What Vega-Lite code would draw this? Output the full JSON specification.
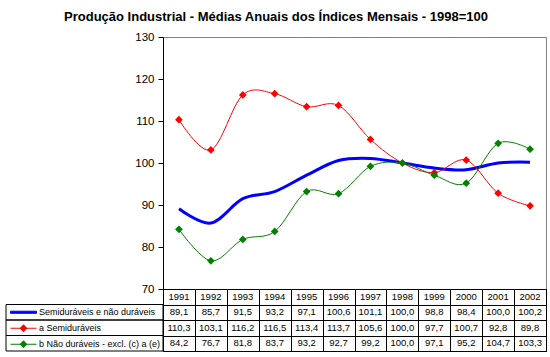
{
  "$schema": "https://vega.github.io/schema/vega-lite/v6.json",
  "padding": {"left": 5, "right": 5, "top": 10, "bottom": 5},
  "background": "white",
  "title": {"text": "Produção Industrial - Médias Anuais dos Índices Mensais - 1998=100", "anchor": "middle", "fontSize": 13, "font": "Liberation Sans", "fontWeight": "bold", "color": "black", "offset": 7},
  "config": {
    "font": "Liberation Sans",
    "view": {"stroke": null},
    "locale": {"number": {"decimal": ",", "thousands": ".", "grouping": [3], "currency": ["", " €"]}}
  },
  "datasets": {
    "d": [
      {"ano": "1991", "serie": "Semiduráveis e não duráveis", "valor": 89.1},
      {"ano": "1992", "serie": "Semiduráveis e não duráveis", "valor": 85.7},
      {"ano": "1993", "serie": "Semiduráveis e não duráveis", "valor": 91.5},
      {"ano": "1994", "serie": "Semiduráveis e não duráveis", "valor": 93.2},
      {"ano": "1995", "serie": "Semiduráveis e não duráveis", "valor": 97.1},
      {"ano": "1996", "serie": "Semiduráveis e não duráveis", "valor": 100.6},
      {"ano": "1997", "serie": "Semiduráveis e não duráveis", "valor": 101.1},
      {"ano": "1998", "serie": "Semiduráveis e não duráveis", "valor": 100.0},
      {"ano": "1999", "serie": "Semiduráveis e não duráveis", "valor": 98.8},
      {"ano": "2000", "serie": "Semiduráveis e não duráveis", "valor": 98.4},
      {"ano": "2001", "serie": "Semiduráveis e não duráveis", "valor": 100.0},
      {"ano": "2002", "serie": "Semiduráveis e não duráveis", "valor": 100.2},
      {"ano": "1991", "serie": "a Semiduráveis", "valor": 110.3},
      {"ano": "1992", "serie": "a Semiduráveis", "valor": 103.1},
      {"ano": "1993", "serie": "a Semiduráveis", "valor": 116.2},
      {"ano": "1994", "serie": "a Semiduráveis", "valor": 116.5},
      {"ano": "1995", "serie": "a Semiduráveis", "valor": 113.4},
      {"ano": "1996", "serie": "a Semiduráveis", "valor": 113.7},
      {"ano": "1997", "serie": "a Semiduráveis", "valor": 105.6},
      {"ano": "1998", "serie": "a Semiduráveis", "valor": 100.0},
      {"ano": "1999", "serie": "a Semiduráveis", "valor": 97.7},
      {"ano": "2000", "serie": "a Semiduráveis", "valor": 100.7},
      {"ano": "2001", "serie": "a Semiduráveis", "valor": 92.8},
      {"ano": "2002", "serie": "a Semiduráveis", "valor": 89.8},
      {"ano": "1991", "serie": "b Não duráveis - excl. (c) a (e)", "valor": 84.2},
      {"ano": "1992", "serie": "b Não duráveis - excl. (c) a (e)", "valor": 76.7},
      {"ano": "1993", "serie": "b Não duráveis - excl. (c) a (e)", "valor": 81.8},
      {"ano": "1994", "serie": "b Não duráveis - excl. (c) a (e)", "valor": 83.7},
      {"ano": "1995", "serie": "b Não duráveis - excl. (c) a (e)", "valor": 93.2},
      {"ano": "1996", "serie": "b Não duráveis - excl. (c) a (e)", "valor": 92.7},
      {"ano": "1997", "serie": "b Não duráveis - excl. (c) a (e)", "valor": 99.2},
      {"ano": "1998", "serie": "b Não duráveis - excl. (c) a (e)", "valor": 100.0},
      {"ano": "1999", "serie": "b Não duráveis - excl. (c) a (e)", "valor": 97.1},
      {"ano": "2000", "serie": "b Não duráveis - excl. (c) a (e)", "valor": 95.2},
      {"ano": "2001", "serie": "b Não duráveis - excl. (c) a (e)", "valor": 104.7},
      {"ano": "2002", "serie": "b Não duráveis - excl. (c) a (e)", "valor": 103.3}
    ]
  },
  "columns": 2,
  "spacing": 0,
  "bounds": "flush",
  "resolve": {"scale": {"x": "independent", "y": "independent"}},
  "concat": [
    {
      "width": 157, "height": 252,
      "data": {"values": [{}]},
      "mark": {"type": "text"},
      "encoding": {"text": {"value": ""}}
    },
    {
      "width": 383, "height": 252,
      "data": {"name": "d"},
      "view": {"stroke": "#808080"},
      "encoding": {
        "x": {"field": "ano", "type": "ordinal", "scale": {"type": "point", "padding": 0.5}, "axis": null},
        "y": {"field": "valor", "type": "quantitative", "scale": {"domain": [70, 130], "nice": false, "zero": false},
              "axis": {"values": [70, 80, 90, 100, 110, 120, 130], "grid": false, "domainColor": "black", "tickColor": "black", "tickSize": 5, "labelFontSize": 11.5, "labelColor": "black", "labelPadding": 4, "title": null}},
        "color": {"field": "serie", "type": "nominal",
                  "scale": {"domain": ["Semiduráveis e não duráveis", "a Semiduráveis", "b Não duráveis - excl. (c) a (e)"], "range": ["#0000ff", "#ff0000", "#008000"]},
                  "legend": {
                    "orient": "none", "legendX": 4, "legendY": 267.5,
                    "title": null, "padding": 0, "labelFontSize": 9, "labelColor": "black", "labelFont": "Liberation Sans",
                    "symbolSize": 676, "rowPadding": 0, "labelOffset": 2, "clipHeight": 15.5,
                    "encode": {"symbols": {"update": {
                      "shape": {"signal": "datum.index === 0 ? 'M-1,-0.08L1,-0.08L1,0.08L-1,0.08Z' : 'M-1,0L1,0M-0.25,0L0,-0.27L0.25,0L0,0.27Z'"},
                      "size": {"value": 676},
                      "fill": {"signal": "scale('color', datum.value)"},
                      "stroke": {"signal": "scale('color', datum.value)"},
                      "strokeWidth": {"value": 1},
                      "opacity": {"value": 1}
                    }}}
                  }}
      },
      "layer": [
        {"mark": {"type": "line", "interpolate": "cardinal"},
         "encoding": {"strokeWidth": {"condition": {"test": "datum.serie === 'Semiduráveis e não duráveis'", "value": 3}, "value": 1}}},
        {"transform": [{"filter": "datum.serie !== 'Semiduráveis e não duráveis'"}],
         "mark": {"type": "point", "shape": "diamond", "filled": true, "size": 60, "opacity": 1}}
      ]
    },
    {
      "width": 157, "height": 62,
      "data": {"name": "d"},
      "transform": [{"filter": "datum.ano === '1991'"}],
      "mark": {"type": "rect", "fill": "transparent", "stroke": "black", "strokeWidth": 1},
      "encoding": {
        "y": {"field": "serie", "type": "nominal", "scale": {"domain": ["ano", "Semiduráveis e não duráveis", "a Semiduráveis", "b Não duráveis - excl. (c) a (e)"], "paddingInner": 0, "paddingOuter": 0}, "axis": null}
      }
    },
    {
      "width": 383, "height": 62,
      "data": {"name": "d"},
      "view": {"stroke": "black"},
      "encoding": {
        "x": {"field": "ano", "type": "ordinal", "scale": {"type": "band", "paddingInner": 0, "paddingOuter": 0},
              "axis": {"grid": true, "tickBand": "extent", "gridColor": "black", "gridOpacity": 1, "labels": false, "ticks": false, "domain": false, "title": null}},
        "y": {"field": "serie", "type": "nominal", "scale": {"domain": ["ano", "Semiduráveis e não duráveis", "a Semiduráveis", "b Não duráveis - excl. (c) a (e)"], "paddingInner": 0, "paddingOuter": 0},
              "axis": {"grid": true, "tickBand": "extent", "gridColor": "black", "gridOpacity": 1, "labels": false, "ticks": false, "domain": false, "title": null}}
      },
      "layer": [
        {"mark": {"type": "text", "fontSize": 9.5, "color": "black"},
         "encoding": {"text": {"field": "valor", "type": "quantitative", "format": ".1f"}}},
        {"transform": [{"filter": "datum.serie === 'Semiduráveis e não duráveis'"}],
         "mark": {"type": "text", "fontSize": 9.5, "color": "black"},
         "encoding": {"y": {"datum": "ano"}, "text": {"field": "ano", "type": "nominal"}}}
      ]
    }
  ]
}
